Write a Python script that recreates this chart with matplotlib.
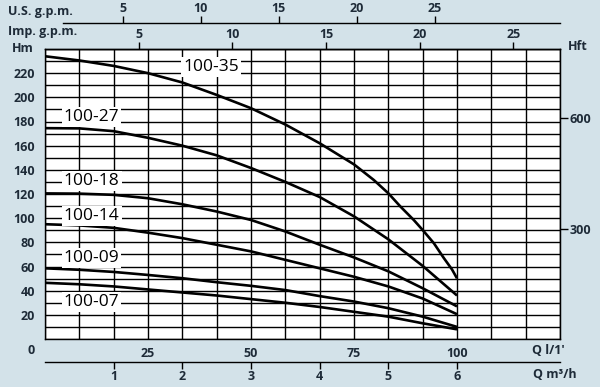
import numpy as np
import matplotlib
matplotlib.use("Agg")
import matplotlib.pyplot as plt
from matplotlib.ticker import MultipleLocator, FixedLocator

# ---- data (flow in l/min, head in m) ----
q = [0, 8.33, 16.67, 25, 33.33, 41.67, 50, 58.33, 66.67, 75, 83.33, 91.67, 100]
q_35 = [0, 8.33, 16.67, 25, 33.33, 41.67, 50, 58.33, 66.67, 75, 79.8, 83.33,
        86.3, 89.5, 91.67, 94.4, 96.8, 98.8, 100]
h_100_35 = [234, 230.5, 226, 220, 212.3, 202, 191, 177.5, 162, 144.5, 131.6, 120.6,
            109.5, 98.5, 90.2, 79.2, 67, 57.5, 50.2]
h_100_27 = [174.5, 174.3, 172, 166.5, 160, 152, 141.5, 130, 117.5, 101.5, 82.5, 60.5, 36]
h_100_18 = [120.5, 120.3, 119.3, 116.5, 111.5, 105.5, 98.5, 89, 78, 67.5, 56, 42, 27]
h_100_14 = [95, 94, 92, 88, 83.5, 78, 72.5, 65.5, 58.5, 51.5, 43.5, 33.5, 20.5]
h_100_09 = [58.5, 57.3, 55.5, 53, 50.3, 47, 44, 40.5, 35.5, 31, 25.5, 18.5, 10]
h_100_07 = [46.5, 45.3, 43.5, 41, 38.5, 36, 33, 30, 26.5, 22.5, 18.5, 13, 8]
flows = [q_35, q, q, q, q, q]
series = [h_100_35, h_100_27, h_100_18, h_100_14, h_100_09, h_100_07]
names = ["100-35", "100-27", "100-18", "100-14", "100-09", "100-07"]
label_q = [40.3, 11.3, 11.3, 11.3, 11.3, 11.3]
label_h = [225, 184, 131, 102, 67, 30.6]

hm_ticks = list(range(20, 221, 20))
q_ticks = [25, 50, 75, 100]
m3h_ticks = [1, 2, 3, 4, 5, 6]
gpm_ticks = [5, 10, 15, 20, 25]
hft_ticks = [300, 600]

BG = "#d3e2e9"
TC = "#1e2b38"
FONT = "Open Sans"

W, H = 600, 387
fig = plt.figure(figsize=(W / 100, H / 100), dpi=100, facecolor=BG)
ax = fig.add_axes([45 / W, 48 / H, 515 / W, 290 / H])
ax.set_facecolor("white")
ax.set_xlim(0, 125)
ax.set_ylim(0, 240)

ax.xaxis.set_major_locator(FixedLocator(q_ticks))
ax.xaxis.set_minor_locator(MultipleLocator(25 / 3))
ax.yaxis.set_major_locator(FixedLocator(hm_ticks))
ax.yaxis.set_minor_locator(MultipleLocator(10))
ax.grid(True, which="both", color="black", lw=1.0, zorder=1)
ax.set_axisbelow(True)
ax.tick_params(which="both", length=0)
ax.tick_params(axis="y", pad=7)
ax.tick_params(axis="x", pad=6)
for lab in ax.get_xticklabels() + ax.get_yticklabels():
    lab.set_fontfamily(FONT)
    lab.set_fontweight("bold")
    lab.set_fontsize(9)
    lab.set_color(TC)
for s in ax.spines.values():
    s.set_color("black")
    s.set_linewidth(1.0)

for qq, hv, nm, lq, lh in zip(flows, series, names, label_q, label_h):
    ax.plot(qq, hv, color="black", lw=1.9, zorder=3, solid_capstyle="butt",
            solid_joinstyle="round")
    ax.text(lq, lh, nm, ha="center", va="center", fontsize=12.5, family=FONT,
            fontweight="medium", color="black", zorder=4,
            bbox=dict(facecolor="white", edgecolor="none", pad=1.5))

# secondary scales
L_PER_USG = 3.785
L_PER_IMPG = 4.546

def lab_style(axis_obj):
    for lab in axis_obj.get_ticklabels():
        lab.set_fontfamily(FONT)
        lab.set_fontweight("bold")
        lab.set_fontsize(9)
        lab.set_color(TC)

# m3/h bottom
sb = ax.secondary_xaxis(-23 / 290, functions=(lambda x: np.asarray(x) * 0.06,
                                              lambda x: np.asarray(x) / 0.06))
sb.set_xticks(m3h_ticks)
sb.tick_params(direction="out", length=5, width=1, pad=1)
sb.spines["bottom"].set_linewidth(1.0)
lab_style(sb.xaxis)

# Imp gpm on top border
si = ax.secondary_xaxis("top", functions=(lambda x: np.asarray(x) / L_PER_IMPG,
                                         lambda x: np.asarray(x) * L_PER_IMPG))
si.set_xticks(gpm_ticks)
si.tick_params(direction="out", length=5, width=1, pad=1)
si.spines["top"].set_linewidth(1.0)
lab_style(si.xaxis)

# US gpm higher up
su = ax.secondary_xaxis(1 + 26 / 290, functions=(lambda x: np.asarray(x) / L_PER_USG,
                                                lambda x: np.asarray(x) * L_PER_USG))
su.set_xticks(gpm_ticks)
su.tick_params(direction="out", length=5, width=1, pad=1)
su.spines["top"].set_linewidth(1.0)
su.spines["top"].set_bounds(4.4 / L_PER_USG, 125 / L_PER_USG)
lab_style(su.xaxis)

# Hft right
sr = ax.secondary_yaxis("right", functions=(lambda m: np.asarray(m) / 0.3048,
                                           lambda f: np.asarray(f) * 0.3048))
sr.set_yticks(hft_ticks)
sr.tick_params(direction="out", length=6, width=1, pad=1)
lab_style(sr.yaxis)

def ftext(x, y, s, ha="left"):
    fig.text(x / W, 1 - y / H, s, ha=ha, va="center", fontsize=9, family=FONT,
             fontweight="bold", color=TC)

ftext(8, 12, "U.S. g.p.m.")
ftext(8, 31, "Imp. g.p.m.")
ftext(12, 48, "Hm")
ftext(568, 47, "Hft")
ftext(31, 351, "0", ha="center")
ftext(532, 351, "Q l/1'")
ftext(533, 375, "Q m³/h")

fig.savefig("out.png", dpi=100, facecolor=BG)
